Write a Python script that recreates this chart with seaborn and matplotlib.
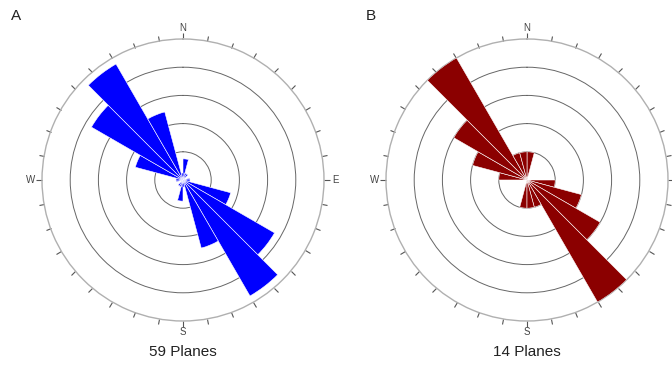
import numpy as np
import pandas as pd
import matplotlib
matplotlib.use("Agg")
import matplotlib.pyplot as plt
import seaborn as sns

# ---- data (bidirectional rose, 15-degree bins over half circle) ----
bin_starts = [0, 15, 30, 45, 60, 75, 90, 105, 120, 135, 150, 165]
counts_A = [3, 1, 1, 0, 0, 1, 1, 7, 15, 19, 10, 1]
counts_B = [1, 0, 0, 0, 0, 0, 1, 2, 3, 5, 1, 1]
panels = ["A", "B"]
captions = ["59 Planes", "14 Planes"]
colors = ["#0000FF", "#8B0000"]
ring_steps = [4, 1]
r_max = [20, 5]
cardinal_angles = [0, 90, 180, 270]
cardinal_labels = ["N", "E", "S", "W"]

bin_width = 15

rows = []
for p, counts in zip(panels, [counts_A, counts_B]):
    for s, c in zip(bin_starts, counts):
        rows.append({"panel": p, "start": s, "count": c})
        rows.append({"panel": p, "start": s + 180, "count": c})
df = pd.DataFrame(rows)

sns.set_style("white")
plt.rcParams["font.family"] = ["Liberation Sans", "DejaVu Sans"]

g = sns.FacetGrid(df, col="panel", col_order=panels, sharex=False, sharey=False,
                  subplot_kws=dict(projection="polar"), height=3.69,
                  aspect=672 / 369 / 2, despine=False)
g.figure.set_size_inches(6.72, 3.69)


def rose(data, color=None, **kws):
    ax = plt.gca()
    p = data["panel"].iloc[0]
    i = panels.index(p)
    theta = np.deg2rad(data["start"].to_numpy() + bin_width / 2)
    ax.bar(theta, data["count"].to_numpy(), width=np.deg2rad(bin_width),
           color=colors[i], edgecolor="white", linewidth=0.4, zorder=3)


g.map_dataframe(rose)
g.set_titles("")
g.set_axis_labels("", "")

centers_x = [183 / 672, 527 / 672]
cy = 1 - 180 / 369
rad = 141
for i, ax in enumerate(g.axes.flat):
    w = 2 * rad / 672
    h = 2 * rad / 369
    ax.set_position([centers_x[i] - w / 2, cy - h / 2, w, h])
    ax.set_theta_zero_location("N")
    ax.set_theta_direction(-1)
    ax.set_ylim(0, r_max[i])
    ax.set_yticks(np.arange(ring_steps[i], r_max[i], ring_steps[i]))
    ax.set_yticklabels([])
    ax.yaxis.grid(True, color="#666666", linewidth=0.7)
    ax.xaxis.grid(False)
    ax.set_axisbelow(True)
    ax.spines["polar"].set_color("#b0b0b0")
    ax.spines["polar"].set_linewidth(1.0)
    ax.set_xticks(np.deg2rad(np.arange(0, 360, 10)))
    ax.set_xticklabels([])
    ax.tick_params(axis="x", which="both", direction="out", length=4,
                   width=0.8, color="#555555", bottom=False, top=True)
    ax.set_xlabel("")
    ax.set_ylabel("")
    for ang, lab in zip(cardinal_angles, cardinal_labels):
        if i == 1 and lab == "E":
            continue  # falls outside the figure in the reference
        ax.text(np.deg2rad(ang), r_max[i] * 1.08, lab, ha="center",
                va="center", fontsize=7, color="#444444", clip_on=False)
    g.figure.text(centers_x[i], 1 - 352 / 369, captions[i], ha="center",
                  va="center", fontsize=11, color="#222222")
    g.figure.text([16 / 672, 371 / 672][i], 1 - 16 / 369, panels[i],
                  ha="center", va="center", fontsize=11, color="#222222")

g.figure.savefig("out.png", dpi=100)
